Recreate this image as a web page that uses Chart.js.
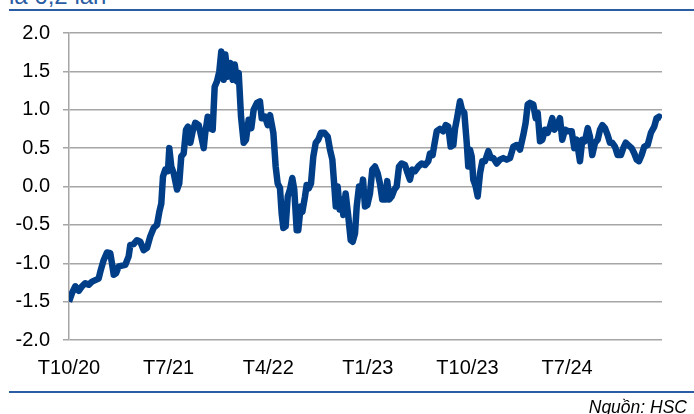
<!DOCTYPE html>
<html>
<head>
<meta charset="utf-8">
<script src="https://cdn.jsdelivr.net/npm/chart.js@4/dist/chart.umd.min.js"></script>
<style>
    html, body { margin: 0; padding: 0; background: #fff; }
    #wrap { position: relative; width: 694px; height: 414px; overflow: hidden; font-family: 'Liberation Sans', Arial, sans-serif; }
    #chart { position: absolute; left: 0; top: 0; }
    .rule { position: absolute; left: 9px; right: 0; height: 2px; background: #2a5da3; }
    #title { position: absolute; left: 9px; top: -16px; font-size: 24px; line-height: 24px; color: #2a5da3; white-space: nowrap; }
    #source { position: absolute; right: 7px; top: 397px; font-size: 17.5px; font-style: italic; color: #000; }
</style>
</head>
<body>
<div id="wrap">
    <div id="title">là 6,2 lần</div>
    <div class="rule" style="top: 9px;"></div>
    <canvas id="chart" width="694" height="414"></canvas>
    <div class="rule" style="top: 391px;"></div>
    <div id="source">Nguồn: HSC</div>
</div>
<script>
// months since T10/20
const months = [
    0, 0.27, 0.57, 0.88, 1.17, 1.47, 1.78, 2.08, 2.38, 2.68, 2.83, 3.13, 3.43, 3.73, 3.88, 4.04,
    4.25, 4.49, 4.79, 5.09, 5.39, 5.54, 5.84, 6.14, 6.44, 6.75, 7.05, 7.34, 7.65, 7.95, 8.16, 8.34,
    8.49, 8.70, 8.94, 9.06, 9.24, 9.46, 9.76, 9.96, 10.14, 10.36, 10.57, 10.75, 10.96, 11.17, 11.41,
    11.72, 11.95, 12.17, 12.31, 12.53, 12.71, 12.98, 13.16, 13.37, 13.58, 13.76, 13.97, 14.12, 14.34,
    14.57, 14.79, 14.97, 15.18, 15.33, 15.54, 15.78, 15.99, 16.23, 16.47, 16.68, 16.98, 17.25, 17.41,
    17.71, 17.95, 18.16, 18.46, 18.67, 18.85, 19.06, 19.21, 19.36, 19.57, 19.76, 19.96, 20.17, 20.35,
    20.57, 20.71, 20.93, 21.08, 21.32, 21.47, 21.68, 21.86, 22.07, 22.29, 22.52, 22.76, 23.06, 23.37,
    23.58, 23.79, 23.97, 24.10, 24.27, 24.45, 24.63, 24.78, 24.99, 25.23, 25.45, 25.63, 25.84, 25.99,
    26.20, 26.38, 26.56, 26.74, 26.95, 27.19, 27.40, 27.64, 27.89, 28.09, 28.30, 28.55, 28.75, 28.93,
    29.15, 29.39, 29.60, 29.81, 30.05, 30.35, 30.60, 30.80, 31.01, 31.26, 31.55, 31.86, 32.16, 32.46,
    32.61, 32.85, 33.00, 33.22, 33.51, 33.81, 34.03, 34.26, 34.48, 34.72, 34.87, 35.08, 35.32, 35.50,
    35.71, 35.93, 36.07, 36.22, 36.38, 36.52, 36.74, 36.92, 37.13, 37.34, 37.58, 37.88, 38.12, 38.33,
    38.64, 38.93, 39.23, 39.54, 39.84, 40.14, 40.44, 40.74, 41.04, 41.25, 41.44, 41.64, 41.94, 42.16,
    42.34, 42.55, 42.76, 43.00, 43.24, 43.45, 43.66, 43.84, 44.05, 44.35, 44.56, 44.81, 45.10, 45.41,
    45.65, 45.86, 46.16, 46.37, 46.61, 46.86, 47.06, 47.27, 47.52, 47.76, 47.97, 48.18, 48.42, 48.66,
    48.87, 49.08, 49.32, 49.56, 49.86, 50.07, 50.29, 50.52, 50.83, 51.07, 51.28, 51.49, 51.73, 51.97,
    52.27, 52.57, 52.87, 53.08, 53.30, 53.54
];
const values = [
    -1.50, -1.39, -1.30, -1.36, -1.30, -1.26, -1.28, -1.24, -1.22, -1.20, -1.11, -0.96, -0.86, -0.87, -1.00, -1.15,
    -1.13, -1.04, -1.03, -1.02, -0.91, -0.76, -0.75, -0.70, -0.72, -0.83, -0.80, -0.65, -0.54, -0.50, -0.33, -0.22,
    0.13, 0.22, 0.20, 0.50, 0.26, 0.17, -0.04, 0.04, 0.39, 0.43, 0.74, 0.78, 0.57, 0.72, 0.83,
    0.80, 0.65, 0.50, 0.70, 0.91, 0.76, 0.74, 1.30, 1.37, 1.50, 1.76, 1.39, 1.72, 1.43,
    1.61, 1.39, 1.59, 1.37, 1.48, 0.91, 0.57, 0.61, 0.87, 0.76, 1.00, 1.09, 1.11, 0.89,
    0.91, 0.80, 0.93, 0.70, 0.26, 0.04, -0.02, -0.35, -0.54, -0.52, -0.13, -0.04, 0.11, -0.04,
    -0.57, -0.57, -0.26, -0.33, -0.13, 0.02, -0.02, 0.04, 0.39, 0.57, 0.61, 0.70, 0.70, 0.65,
    0.48, 0.35, 0.00, -0.26, 0.00, -0.30, -0.17, -0.37, -0.09, -0.39, -0.70, -0.72, -0.61, -0.26,
    0.00, -0.09, 0.09, -0.26, -0.24, -0.09, 0.22, 0.26, 0.17, 0.04, -0.17, -0.17, 0.07, -0.17,
    -0.13, -0.04, 0.00, 0.26, 0.30, 0.28, 0.17, 0.09, 0.22, 0.20, 0.26, 0.30, 0.28, 0.33,
    0.43, 0.41, 0.54, 0.72, 0.75, 0.72, 0.80, 0.78, 0.52, 0.54, 0.75, 0.91, 1.11, 1.00,
    0.96, 0.57, 0.26, 0.48, 0.39, 0.09, 0.00, -0.13, 0.17, 0.33, 0.33, 0.46, 0.37, 0.37,
    0.30, 0.35, 0.37, 0.35, 0.37, 0.52, 0.54, 0.48, 0.67, 0.83, 1.07, 1.09, 1.07, 0.89,
    0.96, 0.59, 0.61, 0.74, 0.70, 0.78, 0.89, 0.74, 0.78, 0.89, 0.61, 0.74, 0.72, 0.72,
    0.50, 0.61, 0.33, 0.61, 0.59, 0.76, 0.65, 0.41, 0.57, 0.61, 0.74, 0.80, 0.76, 0.67,
    0.57, 0.57, 0.52, 0.41, 0.41, 0.50, 0.57, 0.54, 0.50, 0.43, 0.35, 0.33, 0.41, 0.52,
    0.54, 0.70, 0.78, 0.89, 0.91, 0.89
];
const tickMonths = [0, 9, 18, 27, 36, 45];
const tickLabels = ['T10/20', 'T7/21', 'T4/22', 'T1/23', 'T10/23', 'T7/24'];
const yTicks = [-2, -1.5, -1, -0.5, 0, 0.5, 1, 1.5, 2];

const gridColor = '#a6a6a6';
const points = months.map((m, i) => ({ x: m, y: values[i] }));

new Chart(document.getElementById('chart').getContext('2d'), {
    type: 'line',
    data: {
        datasets: [{
            data: points,
            borderColor: '#003f88',
            borderWidth: 6.5,
            pointRadius: 0,
            tension: 0,
            borderJoinStyle: 'round',
            fill: false
        }]
    },
    options: {
        responsive: false,
        animation: false,
        layout: { padding: { left: 0, right: 32, top: 33, bottom: 34 } },
        plugins: { legend: { display: false }, tooltip: { enabled: false } },
        scales: {
            x: {
                type: 'linear',
                min: 0,
                max: 53.57,
                afterBuildTicks: s => { s.ticks = tickMonths.map(v => ({ value: v })); },
                afterFit: s => { s.height = 40; },
                grid: { display: false, drawTicks: false },
                border: { display: false },
                ticks: {
                    padding: 16,
                    maxRotation: 0,
                    autoSkip: false,
                    color: '#000',
                    font: { family: 'Liberation Sans', size: 20 },
                    callback: (v) => tickLabels[tickMonths.indexOf(v)] ?? ''
                }
            },
            y: {
                min: -2,
                max: 2,
                afterBuildTicks: s => { s.ticks = yTicks.map(v => ({ value: v })); },
                afterFit: s => { s.width = 69; },
                grid: { color: gridColor, lineWidth: 1.5, tickLength: 6, tickColor: gridColor },
                border: { display: true, color: gridColor, width: 1.5 },
                ticks: {
                    padding: 13,
                    color: '#000',
                    font: { family: 'Liberation Sans', size: 20 },
                    callback: v => v.toFixed(1)
                }
            }
        }
    }
});
</script>
</body>
</html>
